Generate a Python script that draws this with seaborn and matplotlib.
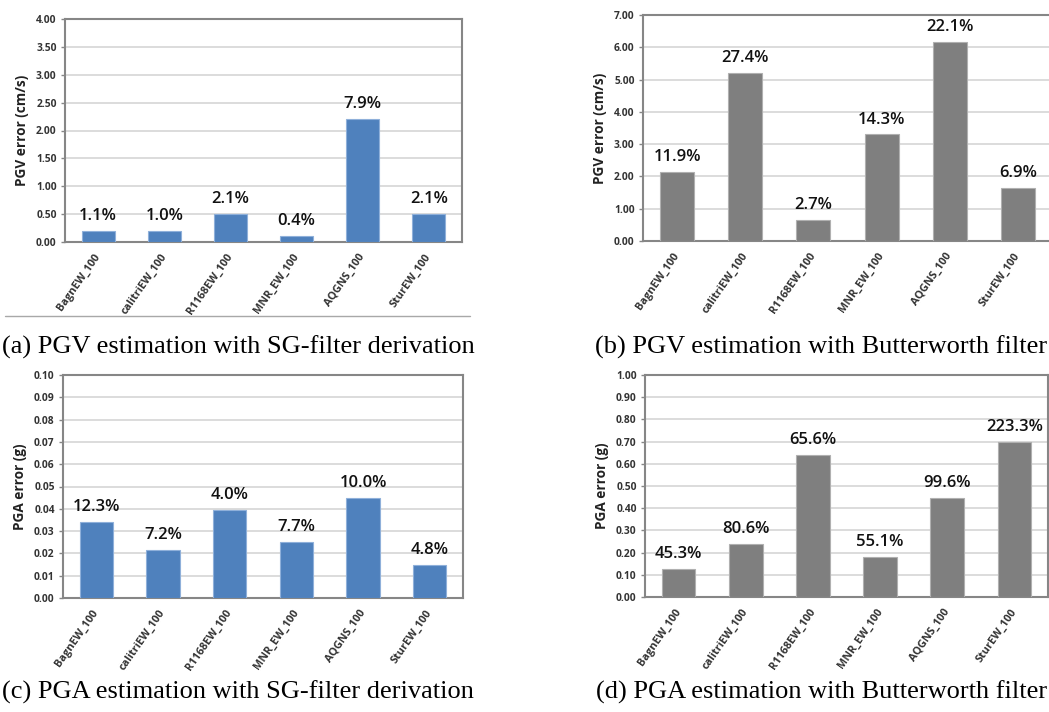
import matplotlib
matplotlib.use("Agg")
import matplotlib.pyplot as plt
from matplotlib.lines import Line2D
import seaborn as sns
import numpy as np

stations = ["BagnEW_100", "calitriEW_100", "R1168EW_100", "MNR_EW_100", "AQGNS_100", "SturEW_100"]

pgv_sg = [0.20, 0.20, 0.50, 0.10, 2.20, 0.50]
pgv_sg_pct = ["1.1%", "1.0%", "2.1%", "0.4%", "7.9%", "2.1%"]

pgv_bw = [2.15, 5.20, 0.65, 3.30, 6.15, 1.65]
pgv_bw_pct = ["11.9%", "27.4%", "2.7%", "14.3%", "22.1%", "6.9%"]

pga_sg = [0.034, 0.0215, 0.0395, 0.025, 0.045, 0.015]
pga_sg_pct = ["12.3%", "7.2%", "4.0%", "7.7%", "10.0%", "4.8%"]

pga_bw = [0.125, 0.24, 0.64, 0.18, 0.445, 0.70]
pga_bw_pct = ["45.3%", "80.6%", "65.6%", "55.1%", "99.6%", "223.3%"]

captions = ["(a) PGV estimation with SG-filter derivation",
            "(b) PGV estimation with Butterworth filter",
            "(c) PGA estimation with SG-filter derivation",
            "(d) PGA estimation with Butterworth filter"]

BLUE = "#4F81BD"
GRAY = "#7F7F7F"

sns.set_theme(style="white")
plt.rcParams["font.family"] = ["Open Sans", "DejaVu Sans"]

W, H = 1049, 712
fig = plt.figure(figsize=(W / 100, H / 100), dpi=100)


def px_axes(left, right, top, bottom):
    return fig.add_axes([left / W, 1 - bottom / H, (right - left) / W, (bottom - top) / H])


def panel(ax, vals, pcts, color, edge, ymax, step, ylabel, fmt, right_spine=True):
    sns.barplot(x=stations, y=vals, ax=ax, color=color, width=0.5, saturation=1,
                edgecolor=edge, linewidth=0.8, zorder=3)
    ax.set_xlim(-0.5, len(stations) - 0.5)
    ax.set_ylim(0, ymax)
    ticks = np.arange(0, ymax + step / 2, step)
    ax.set_yticks(ticks)
    ax.set_yticklabels([fmt.format(t) for t in ticks], fontsize=7.4, fontweight="bold", color="#333333")
    ax.set_xticks(range(len(stations)))
    ax.set_xticklabels(stations, rotation=55, ha="right", va="center", rotation_mode="anchor",
                       fontsize=7.8, fontweight="bold", color="#333333")
    ax.tick_params(axis="x", length=0, pad=9)
    ax.tick_params(axis="y", length=3, width=1, color="#868686", pad=3, left=True)
    ax.yaxis.grid(True, color="#D9D9D9", linewidth=1.3, zorder=0)
    ax.xaxis.grid(False)
    ax.set_axisbelow(True)
    for s in ax.spines.values():
        s.set_color("#868686")
        s.set_linewidth(1.5)
    ax.spines["right"].set_visible(right_spine)
    ax.set_xlabel("")
    ax.set_ylabel(ylabel, fontsize=9.8, fontweight="bold", color="#222222", labelpad=5)
    ax.bar_label(ax.containers[0], labels=pcts, padding=5, fontsize=12, fontweight="semibold",
                 color="#111111")


ax_a = px_axes(65, 462, 19, 242)
panel(ax_a, pgv_sg, pgv_sg_pct, BLUE, "#8FB0DA", 4.0, 0.5, "PGV error (cm/s)", "{:.2f}")

ax_b = px_axes(643, 1052, 15, 241)
panel(ax_b, pgv_bw, pgv_bw_pct, GRAY, "#B0B0B0", 7.0, 1.0, "PGV error (cm/s)", "{:.2f}", right_spine=False)

ax_c = px_axes(63, 463, 375, 598)
panel(ax_c, pga_sg, pga_sg_pct, BLUE, "#8FB0DA", 0.10, 0.01, "PGA error (g)", "{:.2f}")

ax_d = px_axes(645, 1048, 375, 597)
panel(ax_d, pga_bw, pga_bw_pct, GRAY, "#B0B0B0", 1.0, 0.1, "PGA error (g)", "{:.2f}")

# faint frame edge under the first chart
fig.add_artist(Line2D([5 / W, 470 / W], [1 - 316 / H, 1 - 316 / H], color="#A8A8A8", linewidth=1.0))

cap_kw = dict(fontsize=19, family=["Liberation Serif", "DejaVu Serif"], color="black", va="baseline")
fig.text(2 / W, 1 - 354 / H, captions[0], ha="left", **cap_kw)
fig.text(1047 / W, 1 - 354 / H, captions[1], ha="right", **cap_kw)
fig.text(2 / W, 1 - 699 / H, captions[2], ha="left", **cap_kw)
fig.text(1047 / W, 1 - 699 / H, captions[3], ha="right", **cap_kw)

fig.savefig("out.png", dpi=100, facecolor="white")
